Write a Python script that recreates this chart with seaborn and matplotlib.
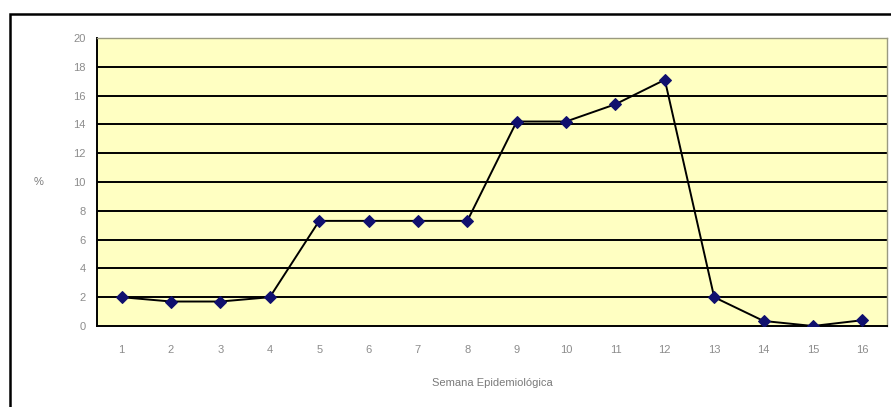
import numpy as np
import pandas as pd
import matplotlib
matplotlib.use('Agg')
import matplotlib.pyplot as plt
import seaborn as sns
from matplotlib.patches import Rectangle

# data
semanas = list(range(1, 17))
porcentaje = [2.0, 1.7, 1.7, 2.0, 7.3, 7.3, 7.3, 7.3,
              14.2, 14.2, 15.4, 17.1, 2.0, 0.35, 0.0, 0.4]
y_ticks = list(range(0, 21, 2))

df = pd.DataFrame({'semana': semanas, 'pct': porcentaje})

sns.set_style('white')
plt.rcParams['font.family'] = ['Liberation Sans', 'DejaVu Sans']

fig = plt.figure(figsize=(8.91, 4.07), dpi=100)
ax = fig.add_axes([97/891, 1 - 326/407, (887 - 97)/891, (326 - 38)/407])

# outer chart-area frame (cut off right and bottom like the original)
fig.patches.append(Rectangle((10/891, -0.1), 1.0, 1 - 14/407 + 0.1,
                             transform=fig.transFigure, fill=False,
                             ec='black', lw=1.8, zorder=0))

ax.set_facecolor('#ffffc2')
for y in y_ticks[1:]:
    ax.axhline(y, color='black', lw=1.4, zorder=1)

sns.lineplot(data=df, x='semana', y='pct', ax=ax, color='black', lw=1.4,
             marker='D', markersize=6, markerfacecolor='#10106e',
             markeredgecolor='#10106e', zorder=3)

ax.set_xlim(0.5, 16.5)
ax.set_ylim(0, 20)
ax.set_xticks(semanas)
ax.set_xticks(np.arange(0.5, 17, 1), minor=True)
ax.set_yticks(y_ticks)
ax.tick_params(axis='x', which='major', length=0, labelsize=8,
               labelcolor='#8c8c8c', pad=14)
ax.tick_params(axis='x', which='minor', length=4, width=1.4, color='black',
               direction='out')
ax.tick_params(axis='y', length=4, width=1.4, color='black', direction='out',
               labelsize=8, labelcolor='#8c8c8c', pad=4)

for side in ['left', 'bottom']:
    ax.spines[side].set_color('black')
    ax.spines[side].set_linewidth(1.4)
for side in ['top', 'right']:
    ax.spines[side].set_color('#9a9a80')
    ax.spines[side].set_linewidth(1.0)
    ax.spines[side].set_visible(True)

ax.set_xlabel('Semana Epidemiológica', fontsize=8, color='#7a7a7a',
              labelpad=16)
ax.set_ylabel('%', fontsize=8, color='#7a7a7a', rotation=0, labelpad=25,
              va='center')

plt.savefig('out.png', dpi=100)
